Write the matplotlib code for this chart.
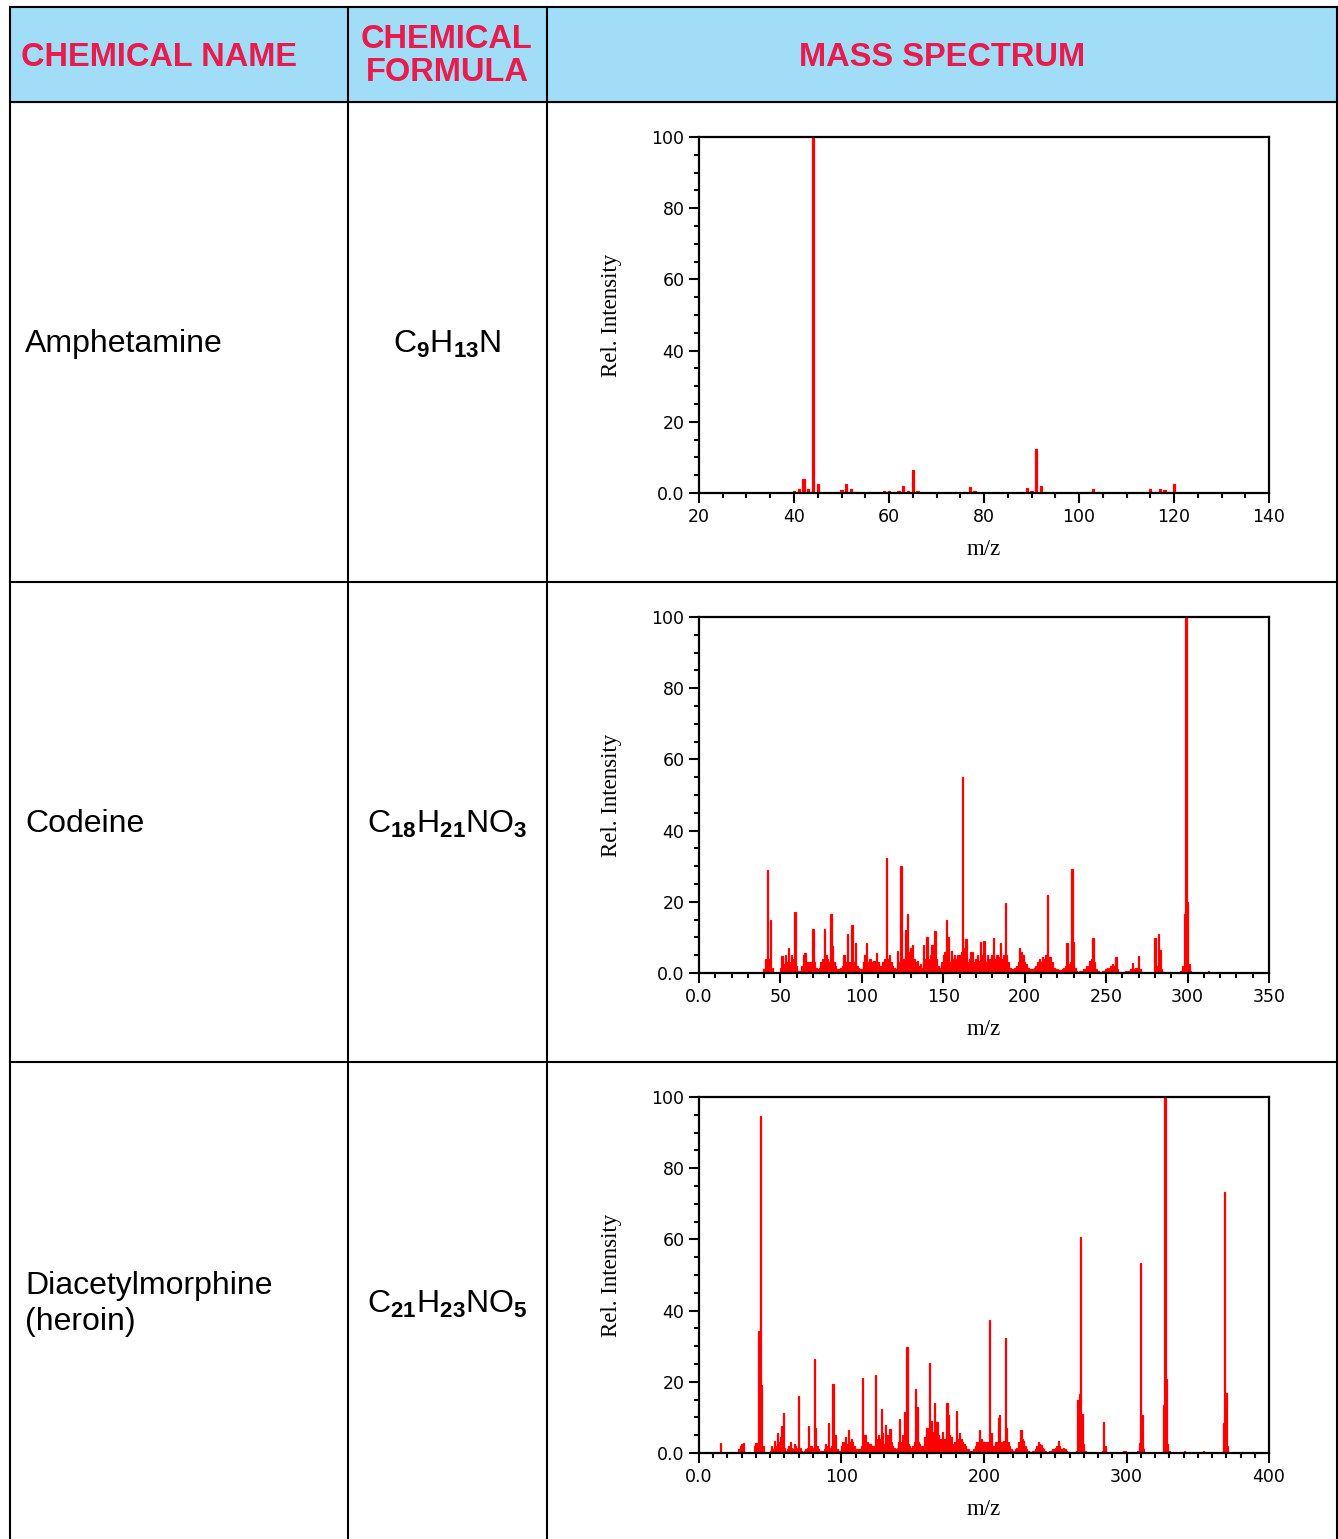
import numpy as np
import matplotlib
matplotlib.use('Agg')
import matplotlib.pyplot as plt
from matplotlib.patches import Rectangle
from matplotlib.ticker import MultipleLocator

plt.rcParams['mathtext.fontset'] = 'custom'
plt.rcParams['mathtext.rm'] = 'Liberation Sans'
plt.rcParams['mathtext.bf'] = 'Liberation Sans:bold'

# table text
headers = ['CHEMICAL NAME', 'CHEMICAL\nFORMULA', 'MASS SPECTRUM']
names = ['Amphetamine', 'Codeine', 'Diacetylmorphine\n(heroin)']
formulas = [r'$\mathregular{C_\mathbf{9}H_\mathbf{13}N}$',
            r'$\mathregular{C_\mathbf{18}H_\mathbf{21}NO_\mathbf{3}}$',
            r'$\mathregular{C_\mathbf{21}H_\mathbf{23}NO_\mathbf{5}}$']

# amphetamine spectrum (m/z, rel. intensity)
amph_mz = [40, 41, 42, 43, 44, 45, 50, 51, 52, 53, 56, 59, 60, 62, 63, 64, 65, 66,
           74, 76, 77, 78, 89, 90, 91, 92, 93, 102, 103, 104, 115, 116, 117, 118,
           119, 120, 134]
amph_int = [0.5, 1.1, 4, 1.2, 100, 2.5, 0.9, 2.6, 1, 0.3, 0.2, 0.5, 0.6, 0.7, 2, 0.6,
            6.5, 0.5, 0.2, 0.3, 1.7, 0.5, 1.5, 0.5, 12.5, 2, 0.3, 0.2, 1, 0.3, 1.2,
            0.3, 1, 0.8, 0.3, 2.4, 0.3]

# codeine spectrum, one value per m/z starting at 40
codeine_start = 40
codeine_int = [
    1, 4, 29, 4, 15, 1.5, 0, 0, 0, 0,
    1.5, 4.8, 2.5, 5, 3, 7, 3, 5, 4, 17,
    2, 0.5, 0.5, 2, 5, 5.5, 2, 3, 3, 3,
    12.4, 3, 1.5, 1, 1.5, 3, 4, 12.4, 5, 4,
    3, 16.6, 7.5, 3, 2, 1, 1, 1.5, 2, 5,
    3, 11, 3, 3, 13.4, 3, 8.3, 2, 1.5, 1,
    1, 3, 5, 8.3, 3, 4, 3, 3.5, 3.5, 5.5,
    3, 2, 2, 3, 4, 32.3, 4, 5, 3, 2,
    1.5, 1, 6.3, 3, 30, 4, 4, 12, 16.5, 6,
    7, 8, 4, 3, 3.5, 2, 2.5, 1.5, 8, 4,
    10, 4, 5, 8, 6, 11.8, 4, 2, 1.5, 3,
    5, 6, 15, 10, 3, 6.3, 4, 5, 4, 5,
    5, 6, 55, 7, 9.6, 3, 4, 6, 6, 3,
    4, 5, 3.5, 8.7, 5, 9, 3, 5, 4, 3,
    5, 9.8, 4, 5, 4.5, 8.4, 4, 5, 19.6, 5,
    3, 1.5, 1, 1, 1.5, 2, 3, 7, 5.8, 5,
    3, 2.5, 1.5, 1, 1, 1, 1.5, 2, 3, 4,
    3, 4.6, 4, 5, 21.8, 4.5, 4.5, 3, 1.5, 1,
    1, 0.8, 0.8, 1, 1.5, 2, 8.3, 2.5, 3, 29.1,
    8.7, 1.5, 0.5, 0.3, 0.5, 0.7, 1, 1, 2, 2,
    3.5, 4, 9.7, 3, 1, 0.5, 0.3, 0.3, 0.5, 0.5,
    1, 1.5, 1.5, 2, 2.5, 2, 4.6, 1, 0.3, 0.3,
    0.3, 0.3, 0.5, 0.5, 0.5, 1, 2.9, 1, 1.5, 1.5,
    4.8, 1, 0.3, 0, 0, 0, 0, 0, 0, 0.3,
    9.7, 2, 10.9, 6.6, 1, 0.3, 0, 0, 0, 0,
    0, 0, 0, 0, 0, 0, 0.5, 2, 16.6, 100,
    20, 2.5, 0.5, 0, 0, 0, 0, 0, 0, 0,
    0, 0, 0, 0.5,
]

# heroin spectrum, one value per m/z starting at 10
heroin_start = 10
heroin_int = [
    0, 0, 0, 0, 0, 2.9, 0, 0, 0, 0,
    0, 0, 0, 0, 0, 0, 0, 0, 1, 2,
    2.5, 2.9, 0, 0, 0, 0, 0, 0, 0, 2,
    2.7, 1, 34.3, 94.7, 19.1, 2, 0, 0, 0, 0,
    0.5, 2, 1, 3.5, 2, 5.6, 3, 4.4, 7.7, 11.1,
    1.5, 0.5, 1, 2, 3, 1.5, 1, 2.5, 2, 1.5,
    16, 1.5, 0.5, 0.3, 0.5, 1, 1.5, 7.7, 2, 2,
    1.5, 26.3, 7, 2, 1, 0.5, 0.5, 0.5, 1, 2.6,
    2, 8.4, 1.5, 2, 19.3, 2, 5, 1, 0.5, 0.5,
    2, 3, 3, 4.5, 2.5, 6.5, 3, 4, 3, 2,
    1, 1, 1, 1, 2, 21.2, 5, 5, 3, 2.5,
    2.5, 2, 2, 2, 22, 4, 5, 4, 12.3, 5.6,
    2.5, 8, 5, 3, 6.8, 3, 2, 1.5, 1, 1.5,
    3, 9.6, 3, 5, 11.5, 3, 29.9, 2.5, 2, 1.5,
    2, 3, 17.9, 13, 3, 2.5, 2, 2, 4.5, 2.5,
    7, 4, 25.2, 9, 6, 14, 5.5, 8.8, 5, 4,
    4, 6, 4, 4, 14, 10.6, 5, 4.5, 2.5, 3,
    2.5, 11.8, 4, 5.6, 4, 3, 2.5, 2, 1, 1,
    0.5, 0.5, 0.5, 1, 2, 3, 3, 6.4, 4, 3,
    3, 2.5, 3, 3, 37.4, 5.5, 2, 2, 3, 3,
    9.7, 10.6, 3, 2.5, 3.5, 32.4, 7, 3, 2, 1,
    0.5, 0.5, 1, 1.5, 3, 2.5, 6.6, 4, 3.5, 2,
    1, 0.5, 0.3, 0.3, 0.5, 0.5, 1, 2, 3.2, 2.5,
    2.3, 1.5, 1, 0.5, 0.3, 0.3, 0.5, 0.5, 1, 1,
    1.5, 2, 3.5, 2, 1, 1, 1.5, 1, 0.5, 0.3,
    0, 0, 0, 0, 0.3, 0.5, 14.9, 16.6, 60.6, 11,
    2.5, 0.5, 0, 0, 0, 0, 0, 0, 0, 0,
    0, 0, 0, 0.5, 8.6, 2, 0.3, 0, 0, 0,
    0, 0, 0, 0, 0, 0, 0, 0.3, 0.7, 0.5,
    0, 0, 0, 0, 0, 0, 0, 0, 0.5, 2.8,
    53.3, 10.8, 1, 0, 0, 0, 0, 0, 0, 0,
    0, 0, 0, 0, 0, 0.3, 13.4, 100, 20.7, 2.5,
    0.5, 0, 0, 0, 0, 0, 0, 0, 0, 0,
    0, 0.5, 0, 0, 0, 0, 0, 0, 0, 0,
    0, 0, 0, 0, 0.5, 0, 0, 0, 0, 0,
    0, 0, 0, 0, 0, 0, 0, 0.3, 8.4, 73.3,
    16.8, 2,
]

codeine_mz = np.arange(codeine_start, codeine_start + len(codeine_int))
heroin_mz = np.arange(heroin_start, heroin_start + len(heroin_int))

spectra = [(amph_mz, amph_int, 0.5), (codeine_mz, codeine_int, 0.8),
           (heroin_mz, heroin_int, 0.8)]
x_ranges = [(20, 140, 20, 5), (0, 350, 50, 10), (0, 400, 100, 10)]

W, H = 1338, 1539
fig = plt.figure(figsize=(W / 100, H / 100), dpi=100)

# background axes in pixel coords for the table
bg = fig.add_axes([0, 0, 1, 1])
bg.set_xlim(0, W)
bg.set_ylim(H, 0)
bg.axis('off')

red = '#e91b4c'
bg.add_patch(Rectangle((10, 7), W - 10, 95, color='#a2ddf7', zorder=0))
lw = 1.5
for y in [7, 102, 582, 1062]:
    bg.plot([10, W], [y, y], color='black', lw=lw)
for x in [10, 348, 547, W - 1]:
    bg.plot([x, x], [7, H], color='black', lw=lw)

hdr_font = dict(family='Liberation Sans', weight='bold', size=23.5, color=red,
                ha='center', va='center')
bg.text(159, 57, headers[0], **hdr_font)
bg.text(447, 56, headers[1], linespacing=1.12, **hdr_font)
bg.text(942, 57, headers[2], **hdr_font)

for i in range(3):
    yc = 344 + 480 * i
    bg.text(25, yc, names[i], family='Liberation Sans', size=23,
            ha='left', va='center', linespacing=1.22)
    bg.text(447, yc, formulas[i], family='Liberation Sans', size=23,
            ha='center', va='center')

# spectrum axes
for i in range(3):
    top = 137 + 480 * i
    ax = fig.add_axes([699 / W, 1 - (top + 356) / H, 570 / W, 356 / H])
    mz, inten, bw = spectra[i]
    ax.bar(mz, inten, width=bw, color='#ff0000', edgecolor='#ff0000', linewidth=0.9)
    x0, x1, major, minor = x_ranges[i]
    ax.set_xlim(x0, x1)
    ax.set_ylim(0, 100)
    xt = np.arange(x0, x1 + 1, major)
    ax.set_xticks(xt)
    ax.set_xticklabels(['0.0' if v == 0 else str(v) for v in xt])
    ax.xaxis.set_minor_locator(MultipleLocator(minor))
    ax.set_yticks([0, 20, 40, 60, 80, 100])
    ax.set_yticklabels(['0.0', '20', '40', '60', '80', '100'])
    ax.yaxis.set_minor_locator(MultipleLocator(5))
    for s in ax.spines.values():
        s.set_linewidth(1.6)
        s.set_zorder(3)
    ax.tick_params(which='major', length=7, width=1.5, labelsize=12.5, direction='out')
    ax.tick_params(which='minor', length=3.5, width=1.5, direction='out')
    for lab in ax.get_xticklabels() + ax.get_yticklabels():
        lab.set_family('DejaVu Sans')
    ax.set_ylabel('Rel. Intensity', family='Liberation Serif', size=16.5)
    ax.set_xlabel('m/z', family='Liberation Serif', size=16.5)
    ax.yaxis.set_label_coords(-0.135, 0.5)
    ax.xaxis.set_label_coords(0.5, -0.128)

fig.savefig('out.png', dpi=100)
